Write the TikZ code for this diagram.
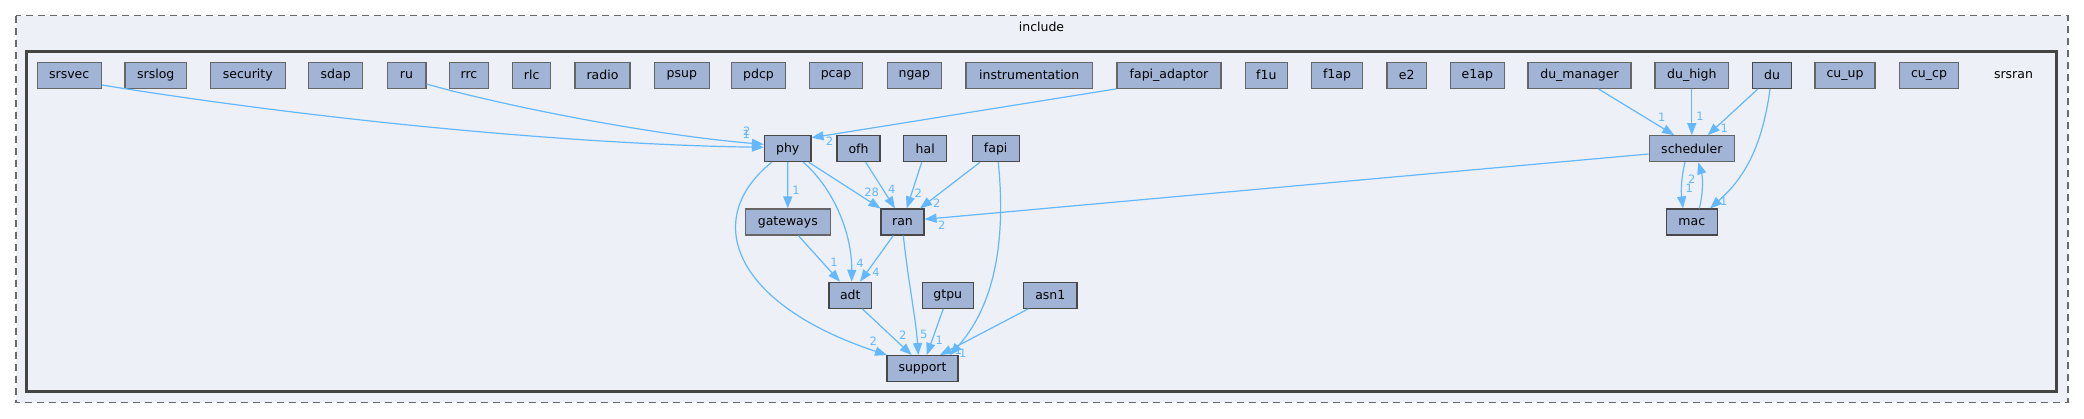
\documentclass[tikz,border=0pt]{standalone}
\usepackage{fontspec}
\setmainfont{DejaVu Sans}
\usetikzlibrary{arrows.meta}
\definecolor{edgeblue}{HTML}{63B8FF}
\definecolor{nodefill}{HTML}{A2B4D6}
\definecolor{clusterfill}{HTML}{EDF0F7}
\definecolor{bordergrey}{HTML}{666666}
\definecolor{borderdark}{HTML}{484848}
\definecolor{clusterline}{HTML}{444444}
\definecolor{dashgrey}{HTML}{6A6A6A}
\begin{document}
\begin{tikzpicture}[x=1pt,y=-1pt,
  dirbox/.style={draw=bordergrey, line width=1.1pt, fill=nodefill, minimum height=26pt, inner sep=0pt, font=\fontsize{12.5}{15}\selectfont, text=black},
  dirdark/.style={dirbox, draw=borderdark},
  dep/.style={draw=edgeblue, line width=1.2pt, -{Triangle[length=12pt,width=9pt]}},
  num/.style={text=edgeblue, font=\fontsize{11.5}{13}\selectfont, inner sep=0pt},
  lbl/.style={font=\fontsize{12.5}{15}\selectfont, inner sep=0pt, text=black}
]
\useasboundingbox (0,0) rectangle (2084,419);
\fill[white] (0,0) rectangle (2084,419);
% clusters
\draw[draw=dashgrey, line width=1.3pt, dash pattern=on 7pt off 5pt, fill=clusterfill] (16,15.7) rectangle (2068,402.3);
\node[lbl] (include) at (1041.5,27.3) {include};
\draw[draw=clusterline, line width=2.7pt, fill=clusterfill] (26.8,51.7) rectangle (2056.8,391.7);
\node[lbl] (srsran) at (2013.5,75) {srsran};
% top row
\node[dirbox, minimum width=64.2pt] (srsvec) at (69.2,75.3) {srsvec};
\node[dirbox, minimum width=61.6pt] (srslog) at (155.8,75.3) {srslog};
\node[dirbox, minimum width=75pt] (security) at (247.8,75.3) {security};
\node[dirbox, minimum width=53.6pt] (sdap) at (335.7,75.3) {sdap};
\node[dirbox, minimum width=38.9pt] (ru) at (406.5,75.3) {ru};
\node[dirbox, minimum width=38.8pt] (rrc) at (469,75.3) {rrc};
\node[dirbox, minimum width=38.4pt] (rlc) at (531.7,75.3) {rlc};
\node[dirbox, minimum width=55pt] (radio) at (602.5,75.3) {radio};
\node[dirbox, minimum width=54.5pt] (psup) at (681.8,75.3) {psup};
\node[dirbox, minimum width=53.6pt] (pdcp) at (758.5,75.3) {pdcp};
\node[dirbox, minimum width=53pt] (pcap) at (836,75.3) {pcap};
\node[dirbox, minimum width=54.5pt] (ngap) at (914.3,75.3) {ngap};
\node[dirbox, minimum width=126.4pt] (instrumentation) at (1029.2,75.3) {instrumentation};
\node[dirbox, minimum width=104pt] (fapiadaptor) at (1169,75.3) {fapi\_adaptor};
\node[dirbox, minimum width=42.5pt] (fonu) at (1266.3,75.3) {f1u};
\node[dirbox, minimum width=51pt] (fonap) at (1337,75.3) {f1ap};
\node[dirbox, minimum width=39.4pt] (etwo) at (1406.7,75.3) {e2};
\node[dirbox, minimum width=54.5pt] (eoneap) at (1477.3,75.3) {e1ap};
\node[dirbox, minimum width=103pt] (dumanager) at (1579.5,75.3) {du\_manager};
\node[dirbox, minimum width=73.6pt] (duhigh) at (1691.8,75.3) {du\_high};
\node[dirdark, minimum width=38.2pt] (du) at (1772,75.3) {du};
\node[dirbox, minimum width=60pt] (cuup) at (1845,75.3) {cu\_up};
\node[dirbox, minimum width=59pt] (cucp) at (1929,75.3) {cu\_cp};
% second row
\node[dirdark, minimum width=46.5pt] (phy) at (787.7,148.7) {phy};
\node[dirdark, minimum width=43pt] (ofh) at (858.5,148.7) {ofh};
\node[dirdark, minimum width=43pt] (hal) at (925.2,148.7) {hal};
\node[dirdark, minimum width=46.7pt] (fapi) at (995.7,148.7) {fapi};
\node[dirbox, minimum width=85.5pt] (scheduler) at (1691.8,148.7) {scheduler};
% third row
\node[dirbox, minimum width=85.5pt] (gateways) at (787.8,222) {gateways};
\node[dirdark, minimum width=43pt] (ran) at (902.5,222) {ran};
\node[dirdark, minimum width=51pt] (mac) at (1691.8,222) {mac};
% fourth row
\node[dirdark, minimum width=42.7pt] (adt) at (850.3,295.3) {adt};
\node[dirdark, minimum width=51pt] (gtpu) at (947.8,295.3) {gtpu};
\node[dirdark, minimum width=53.3pt] (asnone) at (1050.3,295.3) {asn1};
% fifth row
\node[dirdark, minimum width=71pt] (support) at (922.5,368.6) {support};
% edges
\draw[dep] ([yshift=-9.7]srsvec.east) .. controls (350,125) and (600,145) .. ([yshift=1.4]phy.west);
\draw[dep] ([yshift=-8.7]ru.east) .. controls (500,105) and (650,135) .. ([yshift=4.4]phy.west);
\draw[dep] (fapiadaptor.south west) -- ([yshift=11]phy.east);
\draw[dep] (phy.south) -- (gateways.north);
\draw[dep] ([xshift=21]phy.south) -- ([xshift=-22]ran.north);
\draw[dep] ([xshift=15.6]phy.south) .. controls (835,190) and (852,235) .. ([xshift=1.4]adt.north);
\draw[dep] ([xshift=-16]phy.south) .. controls (700,220) and (735,305) .. ([xshift=-35.5]support.north);
\draw[dep] ([xshift=7.2]ofh.south) -- ([xshift=-7.5]ran.north);
\draw[dep] ([xshift=-3.5]hal.south) -- ([xshift=4.2]ran.north);
\draw[dep] ([xshift=-15.7]fapi.south) -- ([xshift=17.5]ran.north);
\draw[dep] ([xshift=2.6]fapi.south) .. controls (1006,240) and (995,305) .. ([xshift=27.5]support.north);
\draw[dep] ([yshift=-5.3]scheduler.west) -- ([yshift=2.7]ran.east);
\draw[dep] ([xshift=10.5]gateways.south) -- ([xshift=-10.3]adt.north);
\draw[dep] ([xshift=-9.2]ran.south) -- ([xshift=9.7]adt.north);
\draw[dep] ([xshift=0.8]ran.south) .. controls (908,280) and (916,320) .. ([xshift=-4.2]support.north);
\draw[dep] ([xshift=12]adt.south) -- ([xshift=-10.8]support.north);
\draw[dep] ([xshift=-4.5]gtpu.south) -- ([xshift=4.2]support.north);
\draw[dep] ([xshift=-22]asnone.south) -- ([xshift=17.5]support.north);
\draw[dep] ([xshift=18.8]dumanager.south) -- ([xshift=-17.6]scheduler.north);
\draw[dep] (duhigh.south) -- (scheduler.north);
\draw[dep] ([xshift=-14]du.south) -- ([xshift=15.9]scheduler.north);
\draw[dep] ([xshift=-2]du.south) .. controls (1762,150) and (1742,180) .. ([xshift=18.2]mac.north);
\draw[dep] ([xshift=-6.8]scheduler.south) .. controls (1681,178) and (1681,192) .. ([xshift=-8.8]mac.north);
\draw[dep] ([xshift=7.5]mac.north) .. controls (1703,195) and (1703,178) .. ([xshift=6.5]scheduler.south);
% edge labels
\node[num] (l1) at (746.7,131.5) {2};
\node[num] (l2) at (746.3,134.8) {1};
\node[num] (l3) at (829.5,141.5) {2};
\node[num] (l4) at (796,190) {1};
\node[num] (l5) at (871.7,192.3) {28};
\node[num] (l6) at (891.7,189.3) {4};
\node[num] (l7) at (918.3,193.3) {2};
\node[num] (l8) at (936.7,203.3) {2};
\node[num] (l9) at (941.7,225) {2};
\node[num] (l10) at (834,262.7) {1};
\node[num] (l11) at (860,263.3) {4};
\node[num] (l12) at (876,272) {4};
\node[num] (l13) at (873.3,341) {2};
\node[num] (l14) at (902.7,335) {2};
\node[num] (l15) at (923.7,334.3) {5};
\node[num] (l16) at (939.3,340) {1};
\node[num] (l17) at (958.3,350.7) {1};
\node[num] (l18) at (962.7,353.3) {1};
\node[num] (l19) at (1661.7,117.3) {1};
\node[num] (l20) at (1700,116.7) {1};
\node[num] (l21) at (1724.2,128.7) {1};
\node[num] (l22) at (1723.8,201.7) {1};
\node[num] (l23) at (1691.7,179.3) {2};
\node[num] (l24) at (1689.3,188.7) {1};
\end{tikzpicture}
\end{document}
